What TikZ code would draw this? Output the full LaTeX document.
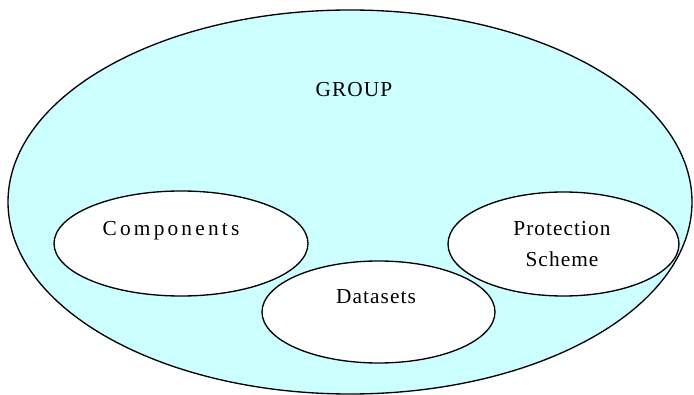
\documentclass[tikz,border=0pt]{standalone}
\usepackage{fontspec}
\setmainfont{Liberation Serif}[LetterSpace=5]
\usepackage{tikz}
\usetikzlibrary{shapes.geometric, positioning}
\definecolor{groupcyan}{RGB}{204,255,255}

\tikzset{
  setshape/.style={ellipse, draw, line width=1pt, fill=white, inner sep=0pt},
  setlabel/.style={font=\fontsize{16}{23.25}\selectfont, inner sep=0pt, anchor=base},
}

\begin{document}
\begin{tikzpicture}[x=0.75pt, y=-0.75pt]
\useasboundingbox (0,0) rectangle (694,395);
% outer set
\node[setshape, fill=groupcyan, minimum width=684*0.75pt, minimum height=384*0.75pt] (group) at (350,202) {};
% inner sets
\node[setshape, minimum width=254*0.75pt, minimum height=105*0.75pt] (comp) at (181,243.5) {};
\node[setshape, minimum width=231*0.75pt, minimum height=104*0.75pt] (prot) at (563.5,244) {};
\node[setshape, minimum width=233*0.75pt, minimum height=102*0.75pt] (data) at (378.5,312) {};
% labels
\node[setlabel] (grouptext) at (354,97) {GROUP};
\node[setlabel] (comptext) at (171,236) {\addfontfeature{LetterSpace=15}Components};
\node[setlabel] (datatext) at (376,304) {Datasets};
\node[setlabel, anchor=center, align=center] (prottext) at (562,244) {Protection\\Scheme};
\end{tikzpicture}
\end{document}
